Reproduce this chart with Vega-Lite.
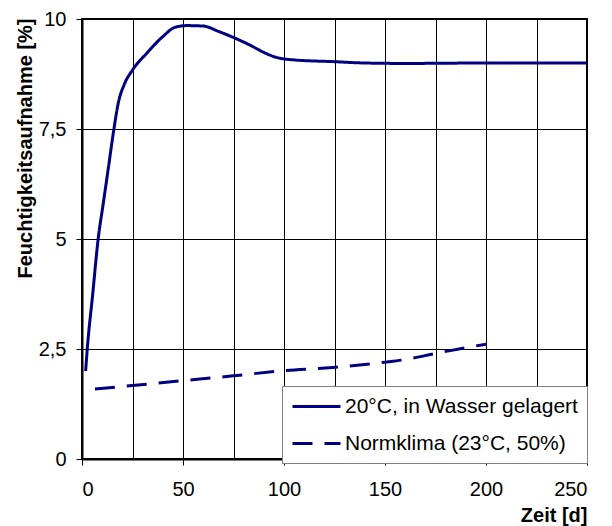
{
  "$schema": "https://vega.github.io/schema/vega-lite/v6.json",
  "autosize": {"type": "none"},
  "width": 505,
  "height": 440,
  "padding": {"left": 82, "top": 19, "right": 25, "bottom": 67},
  "background": "white",
  "config": {
    "font": "Liberation Sans",
    "view": {"stroke": "black", "strokeWidth": 2},
    "axis": {
      "labelFont": "Liberation Sans",
      "labelFontSize": 20,
      "labelColor": "black",
      "titleFont": "Liberation Sans",
      "titleFontSize": 20,
      "titleFontWeight": "bold",
      "titleColor": "black",
      "domainColor": "black",
      "domainWidth": 2,
      "tickColor": "black",
      "tickWidth": 1,
      "gridColor": "black",
      "gridWidth": 1,
      "gridOpacity": 1
    }
  },
  "data": {
    "values": [
      {"serie": "20°C, in Wasser gelagert", "tag": 1.8, "wert": 2.0},
      {"serie": "20°C, in Wasser gelagert", "tag": 2.6, "wert": 2.5},
      {"serie": "20°C, in Wasser gelagert", "tag": 5.2, "wert": 3.7},
      {"serie": "20°C, in Wasser gelagert", "tag": 8, "wert": 5.0},
      {"serie": "20°C, in Wasser gelagert", "tag": 10.5, "wert": 5.8},
      {"serie": "20°C, in Wasser gelagert", "tag": 13, "wert": 6.6},
      {"serie": "20°C, in Wasser gelagert", "tag": 15.8, "wert": 7.5},
      {"serie": "20°C, in Wasser gelagert", "tag": 18, "wert": 8.1},
      {"serie": "20°C, in Wasser gelagert", "tag": 20.8, "wert": 8.5},
      {"serie": "20°C, in Wasser gelagert", "tag": 25, "wert": 8.84},
      {"serie": "20°C, in Wasser gelagert", "tag": 32, "wert": 9.22},
      {"serie": "20°C, in Wasser gelagert", "tag": 40, "wert": 9.6},
      {"serie": "20°C, in Wasser gelagert", "tag": 46, "wert": 9.81},
      {"serie": "20°C, in Wasser gelagert", "tag": 52, "wert": 9.85},
      {"serie": "20°C, in Wasser gelagert", "tag": 60, "wert": 9.84},
      {"serie": "20°C, in Wasser gelagert", "tag": 68, "wert": 9.71},
      {"serie": "20°C, in Wasser gelagert", "tag": 75, "wert": 9.58},
      {"serie": "20°C, in Wasser gelagert", "tag": 83, "wert": 9.41},
      {"serie": "20°C, in Wasser gelagert", "tag": 91, "wert": 9.22},
      {"serie": "20°C, in Wasser gelagert", "tag": 96, "wert": 9.13},
      {"serie": "20°C, in Wasser gelagert", "tag": 105, "wert": 9.07},
      {"serie": "20°C, in Wasser gelagert", "tag": 125, "wert": 9.03},
      {"serie": "20°C, in Wasser gelagert", "tag": 140, "wert": 9.0},
      {"serie": "20°C, in Wasser gelagert", "tag": 160, "wert": 8.99},
      {"serie": "20°C, in Wasser gelagert", "tag": 200, "wert": 9.0},
      {"serie": "20°C, in Wasser gelagert", "tag": 250, "wert": 9.0},
      {"serie": "Normklima (23°C, 50%)", "tag": 6.4, "wert": 1.59},
      {"serie": "Normklima (23°C, 50%)", "tag": 50, "wert": 1.78},
      {"serie": "Normklima (23°C, 50%)", "tag": 75, "wert": 1.89},
      {"serie": "Normklima (23°C, 50%)", "tag": 98, "wert": 2.0},
      {"serie": "Normklima (23°C, 50%)", "tag": 124, "wert": 2.08},
      {"serie": "Normklima (23°C, 50%)", "tag": 150, "wert": 2.2},
      {"serie": "Normklima (23°C, 50%)", "tag": 160, "wert": 2.26},
      {"serie": "Normklima (23°C, 50%)", "tag": 175, "wert": 2.4},
      {"serie": "Normklima (23°C, 50%)", "tag": 200, "wert": 2.61}
    ]
  },
  "mark": {"type": "line", "interpolate": "monotone", "strokeWidth": 3, "stroke": "#000080", "clip": true},
  "encoding": {
    "x": {
      "field": "tag",
      "type": "quantitative",
      "scale": {"domain": [0, 250], "nice": false},
      "axis": {
        "title": "Zeit [d]",
        "values": [0, 25, 50, 75, 100, 125, 150, 175, 200, 225, 250],
        "labelExpr": "datum.value % 50 === 0 ? datum.label : ''",
        "tickOpacity": {"condition": {"test": "datum.value % 50 !== 0", "value": 0}, "value": 1},
        "tickSize": 6,
        "labelPadding": 14,
        "titleAnchor": "end",
        "titlePadding": 6
      }
    },
    "y": {
      "field": "wert",
      "type": "quantitative",
      "scale": {"domain": [0, 10], "nice": false},
      "axis": {
        "title": "Feuchtigkeitsaufnahme [%]",
        "values": [0, 2.5, 5, 7.5, 10],
        "labelExpr": "replace(format(datum.value, '.1~f'), '.', ',')",
        "tickSize": 6,
        "labelPadding": 10,
        "titleAngle": -90,
        "titleX": -57,
        "titleY": 129,
        "titleAlign": "center",
        "titleBaseline": "middle"
      }
    },
    "strokeDash": {
      "field": "serie",
      "type": "nominal",
      "sort": ["20°C, in Wasser gelagert", "Normklima (23°C, 50%)"],
      "scale": {"range": [[1, 0], [20, 12]]},
      "legend": {
        "title": null,
        "orient": "none",
        "legendX": 200,
        "legendY": 367,
        "symbolType": "M-1,0H3.8",
        "symbolSize": 400,
        "symbolStrokeWidth": 3,
        "symbolStrokeColor": "#000080",
        "symbolFillColor": "transparent",
        "labelFont": "Liberation Sans",
        "labelFontSize": 21,
        "labelColor": "black",
        "labelLimit": 400,
        "labelOffset": 31,
        "rowPadding": 15,
        "padding": 9,
        "fillColor": "white",
        "strokeColor": "#808080"
      }
    }
  }
}
